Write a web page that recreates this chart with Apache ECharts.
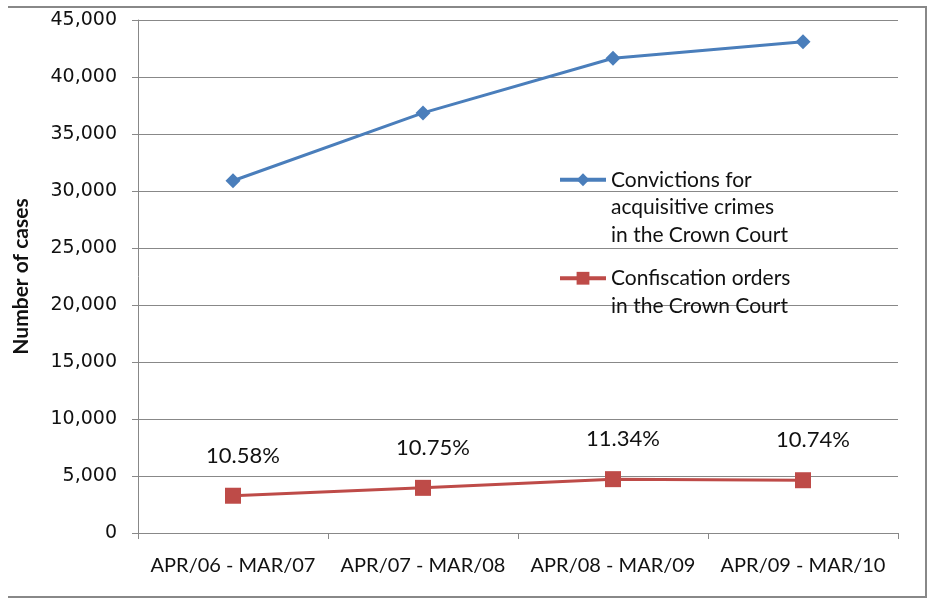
<!DOCTYPE html>
<html>
<head>
<meta charset="utf-8">
<script src="https://cdn.jsdelivr.net/npm/echarts@6/dist/echarts.min.js"></script>
<style>html,body{margin:0;padding:0;background:#fff;}#c{width:928px;height:598px;}</style>
</head>
<body>
<div id="c"></div>
<script>
const categories = ['APR/06 - MAR/07', 'APR/07 - MAR/08', 'APR/08 - MAR/09', 'APR/09 - MAR/10'];
const convictions = [30900, 36850, 41650, 43100];
const confiscations = [3269, 3961, 4723, 4629];
const percentLabels = ['10.58%', '10.75%', '11.34%', '10.74%'];
const seriesNames = ['Convictions for acquisitive crimes in the Crown Court', 'Confiscation orders in the Crown Court'];
const legendLines = {};
legendLines[seriesNames[0]] = ['Convictions for', 'acquisitive crimes', 'in the Crown Court'];
legendLines[seriesNames[1]] = ['Confiscation orders', 'in the Crown Court'];

const chart = echarts.init(document.getElementById('c'), null, {renderer: 'canvas'});
const LH = 27.5;
// Prepend blank lines so that the icon sits level with the first text line
function legendFormatter(n) {
  const lines = legendLines[n];
  return new Array(lines.length - 1).fill('').concat(lines).join('\n');
}
const legendBase = {
  orient: 'vertical', left: 558, padding: 0,
  itemWidth: 46, itemHeight: 16, itemGap: 10,
  lineStyle: {width: 4},
  formatter: legendFormatter,
  textStyle: {fontFamily: 'Lato', fontSize: 21, color: '#111', lineHeight: LH}
};
chart.setOption({
  animation: false,
  backgroundColor: '#fff',
  grid: {left: 138, right: 30, top: 20, bottom: 65},
  legend: [
    Object.assign({}, legendBase, {top: 111, data: [seriesNames[0]]}),
    Object.assign({}, legendBase, {top: 237, data: [seriesNames[1]]})
  ],
  xAxis: {
    type: 'category', data: categories, boundaryGap: true,
    axisLine: {lineStyle: {color: '#888', width: 1}},
    axisTick: {show: true, length: 6, lineStyle: {color: '#888'}},
    axisLabel: {interval: 0, fontFamily: 'Lato', fontSize: 20, color: '#111', margin: 23}
  },
  yAxis: {
    type: 'value', min: 0, max: 45000, interval: 5000,
    name: 'Number of cases', nameLocation: 'middle', nameGap: 106,
    nameTextStyle: {fontFamily: 'Lato', fontSize: 21, fontWeight: 'bold', color: '#111'},
    axisLine: {show: true, lineStyle: {color: '#888', width: 1}},
    axisTick: {show: true, length: 6, lineStyle: {color: '#888'}},
    splitLine: {lineStyle: {color: '#888', width: 1}},
    axisLabel: {fontFamily: 'DejaVu Sans', fontSize: 19, color: '#111', margin: 21,
      formatter: v => v.toLocaleString('en-US')}
  },
  series: [
    {
      name: seriesNames[0], type: 'line', data: convictions,
      symbol: 'diamond', symbolSize: 15,
      lineStyle: {color: '#4A7EBB', width: 3},
      itemStyle: {color: '#4A7EBB'}
    },
    {
      name: seriesNames[1], type: 'line', data: confiscations,
      symbol: 'rect', symbolSize: 16,
      lineStyle: {color: '#BE4B48', width: 3},
      itemStyle: {color: '#BE4B48'},
      label: {show: true, position: 'top', distance: 21, offset: [10, 0],
        formatter: p => percentLabels[p.dataIndex],
        fontFamily: 'Lato', fontSize: 22, color: '#111'}
    }
  ],
  graphic: [
    {type: 'polyline', silent: true, shape: {points: [[8, 7], [926, 7], [926, 597], [8, 597]]},
      style: {stroke: '#888', lineWidth: 2, fill: null}}
  ]
});
</script>
</body>
</html>
